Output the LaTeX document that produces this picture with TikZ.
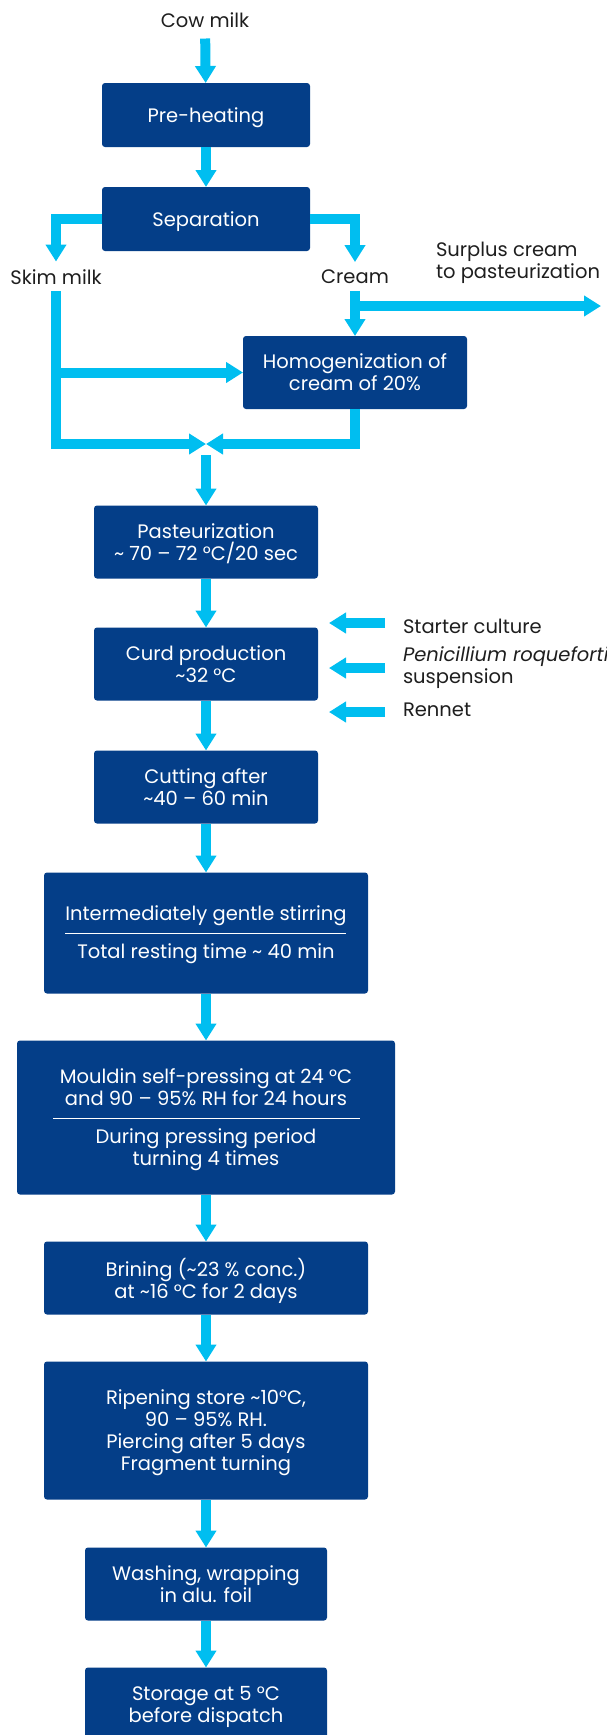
\documentclass[tikz,border=0pt]{standalone}
\usepackage{fontspec}
\setmainfont{Poppins}
\usepackage{xcolor}
\usepackage{tikz}
\usetikzlibrary{arrows.meta,positioning}
\definecolor{boxblue}{RGB}{4,62,136}
\definecolor{flowblue}{RGB}{0,190,240}
\definecolor{inkgray}{RGB}{30,30,30}
\newcommand{\tld}{\textasciitilde}

\begin{document}
\begin{tikzpicture}[x=1pt, y=1pt, font=\fontsize{19.5}{22}\selectfont,
    stepbox/.style={fill=boxblue, text=white, align=center, rounded corners=3pt,
                    inner sep=0pt, outer sep=0pt, text depth=0pt},
    narrow/.style={stepbox, minimum width=208pt, minimum height=64pt},
    mid/.style={stepbox, minimum width=224pt, minimum height=73pt},
    wide/.style={stepbox, minimum width=324pt},
    small/.style={stepbox, minimum width=242pt, minimum height=73pt},
    lbl/.style={text=inkgray, inner sep=0pt, outer sep=0pt},
    inlbl/.style={text=white, align=center, inner sep=0pt, text depth=0pt},
    flow/.style={draw=flowblue, line width=10pt, -{Triangle[width=20pt,length=17pt]}},
    divider/.style={draw=white, line width=0.8pt}]

    \useasboundingbox (0,0) rectangle (607,-1735);

    % milk intake and separation
    \node[lbl] (milk) at (205,-20) {Cow milk};
    \node[narrow] (pre) at (206,-115) {Pre-heating};
    \node[narrow, below=40pt of pre] (sep) {Separation};
    \node[lbl] (skim) at (56,-277) {Skim milk};
    \node[lbl] (cream) at (355,-277) {Cream};
    \node[lbl, align=left, anchor=west] (surplus) at (436,-263) {Surplus cream\\to pasteurization};
    \node[mid] (homog) at (355,-372.5) {Homogenization of\\cream of 20\%};
    \coordinate (mix) at (206,-444);
    \coordinate (out) at (601,-306);

    % main line
    \node[mid] (past) at (206,-542) {Pasteurization\\\tld{} 70 – 72 °C/20 sec};
    \node[mid, below=49pt of past] (curd) {Curd production\\\tld 32 °C};
    \node[mid, below=50pt of curd] (cut) {Cutting after\\\tld 40 – 60 min};
    \node[wide, minimum height=121pt, below=49pt of cut] (stir) {};
    \node[inlbl] (stirA) at ([yshift=19.5pt]stir.center) {Intermediately gentle stirring};
    \node[inlbl] (stirB) at ([yshift=-18.5pt]stir.center) {Total resting time \tld{} 40 min};
    \node[stepbox, minimum width=378pt, minimum height=154pt, below=47pt of stir] (mould) {};
    \node[inlbl] (mouldA) at ([yshift=30pt]mould.center) {Mouldin self-pressing at 24 °C\\and 90 – 95\% RH for 24 hours};
    \node[inlbl] (mouldB) at ([yshift=-30pt]mould.center) {During pressing period\\turning 4 times};
    \node[wide, minimum height=73pt, below=47pt of mould] (brine) {Brining (\tld 23 \% conc.)\\at \tld 16 °C for 2 days};
    \node[wide, minimum height=138pt, below=47pt of brine] (ripe) {Ripening store \tld 10°C,\\90 – 95\% RH.\\Piercing after 5 days\\Fragment turning};
    \node[small, below=48pt of ripe] (wash) {Washing, wrapping\\in alu. foil};
    \node[small, below=47pt of wash] (store) {Storage at 5 °C\\before dispatch};

    \draw[divider] ([xshift=-141pt]stir.center) -- ([xshift=140pt]stir.center);
    \draw[divider] ([xshift=-153pt,yshift=-1pt]mould.center) -- ([xshift=154pt,yshift=-1pt]mould.center);

    % additions to the curd
    \coordinate (srcA) at (385,-623);
    \coordinate (srcB) at (385,-668);
    \coordinate (srcC) at (385,-712);
    \node[lbl, right=18pt of srcA, yshift=-3pt] (starter) {Starter culture};
    \node[lbl, align=left, right=18pt of srcB] (penic) {\textit{Penicillium roqueforti}\\suspension};
    \node[lbl, right=18pt of srcC, yshift=2pt] (rennet) {Rennet};

    % connectors
    \draw[flow, shorten <=11pt] (milk) -- (pre);
    \draw[flow] (pre) -- (sep);
    \draw[flow, shorten >=8pt] (sep.west) -| (skim.north);
    \draw[flow, shorten >=8pt] (sep.east) -| (cream.north);
    \draw[flow, shorten <=7pt] (skim.south) |- (mix);
    \draw[flow] (skim.south |- homog.west) -- (homog.west);
    \draw[flow, shorten <=7pt] (cream.south) -- (homog.north);
    \draw[flow] (cream.south |- out) -- (out);
    \draw[flow] (homog.south) |- (mix);
    \draw[flow, shorten <=11pt] (mix) -- (past);
    \foreach \a/\b in {past/curd, curd/cut, cut/stir, stir/mould, mould/brine,
                       brine/ripe, ripe/wash, wash/store} {
        \draw[flow] (\a) -- (\b);
    }
    \foreach \s in {srcA, srcB, srcC} {
        \draw[flow, shorten >=11pt] (\s) -- (\s -| curd.east);
    }
\end{tikzpicture}
\end{document}
